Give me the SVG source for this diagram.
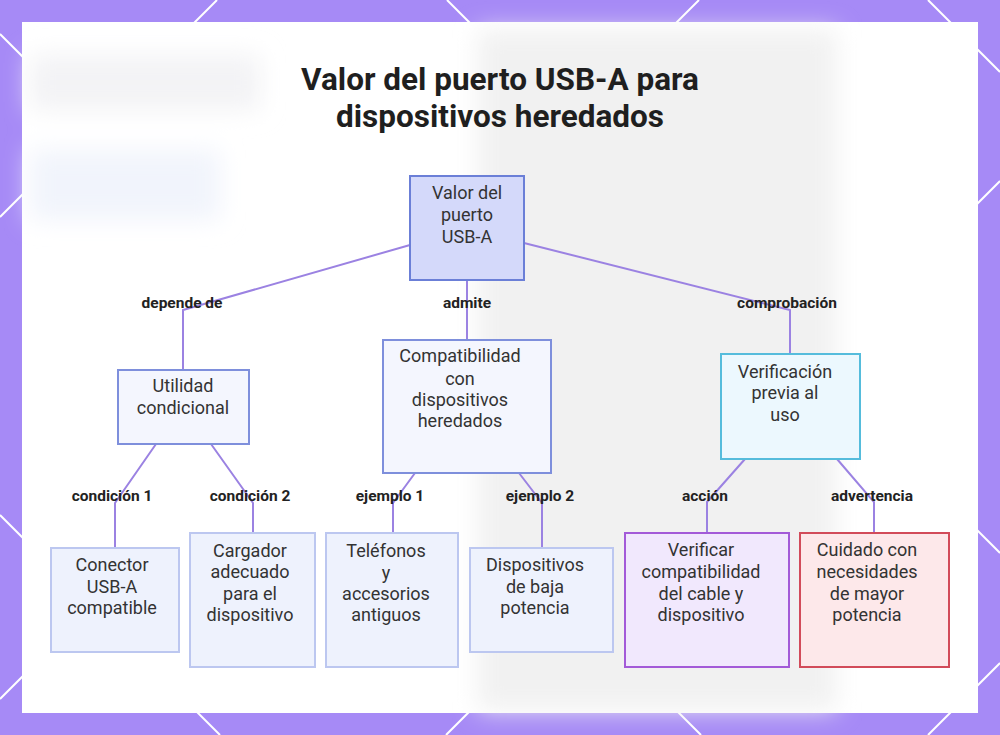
<svg xmlns="http://www.w3.org/2000/svg" width="1000" height="735" viewBox="0 0 1000 735">
<style>
.lat{stroke:#ffffff;stroke-width:2;fill:none}
.ttl{font-family:Roboto,"Liberation Sans",sans-serif;font-weight:700;font-size:31.5px;fill:#1f1f1f;text-anchor:middle}
.nt{font-family:Roboto,"Liberation Sans",sans-serif;font-size:18px;fill:#333333;text-anchor:middle}
.lb{font-family:Roboto,"Liberation Sans",sans-serif;font-weight:700;font-size:15.5px;fill:#222222;text-anchor:middle}
.cn{stroke:#9b82e2;stroke-width:2;fill:none}
.leaf{fill:#eef2fd;stroke:#bcc7f0;stroke-width:2}
.mid{fill:#f4f6fe;stroke:#7e8fdc;stroke-width:2}
</style>
<defs>
<filter id="blur" x="-20%" y="-20%" width="140%" height="140%"><feGaussianBlur stdDeviation="12"/></filter>
</defs>
<rect x="0" y="0" width="1000" height="735" fill="#a68af6"/>
<g id="lattice">
<line class="lat" x1="0" y1="217" x2="217" y2="0"/>
<line class="lat" x1="0" y1="699" x2="699" y2="0"/>
<line class="lat" x1="446" y1="735" x2="1000" y2="181"/>
<line class="lat" x1="928" y1="735" x2="1000" y2="663"/>
<line class="lat" x1="447" y1="0" x2="1000" y2="553"/>
<line class="lat" x1="928" y1="0" x2="1000" y2="72"/>
<line class="lat" x1="0" y1="34" x2="701" y2="735"/>
<line class="lat" x1="0" y1="515" x2="220" y2="735"/>
</g>
<rect x="22" y="22" width="956" height="691" fill="#ffffff"/>
<g id="backdrop" filter="url(#blur)">
<rect x="478" y="30" width="358" height="680" fill="#f1f1f1"/>
<rect x="30" y="55" width="230" height="55" fill="#f3f3f5"/>
<rect x="30" y="150" width="190" height="70" fill="#f1f4fc"/>
</g>
<circle cx="925" cy="660" r="44" fill="none" stroke="#ffffff" stroke-width="1.5"/>
<text class="ttl" x="500" y="90">Valor del puerto USB-A para</text>
<text class="ttl" x="500" y="127">dispositivos heredados</text>
<g id="connectors">
<polyline class="cn" points="410,245 183,310 183,370"/>
<polyline class="cn" points="467,280 467,340"/>
<polyline class="cn" points="524,243 790,310 790,354"/>
<polyline class="cn" points="156,444 115,503 115,548"/>
<polyline class="cn" points="211,444 253,503 253,533"/>
<polyline class="cn" points="415,473 393,503 393,533"/>
<polyline class="cn" points="519,473 542,503 542,548"/>
<polyline class="cn" points="745,459 707,502 707,533"/>
<polyline class="cn" points="837,459 874,502 874,533"/>
<text class="lb" x="182" y="308">depende de</text>
<text class="lb" x="467" y="308">admite</text>
<text class="lb" x="787" y="308">comprobación</text>
<text class="lb" x="112" y="501">condición 1</text>
<text class="lb" x="250" y="501">condición 2</text>
<text class="lb" x="390" y="501">ejemplo 1</text>
<text class="lb" x="540" y="501">ejemplo 2</text>
<text class="lb" x="705" y="501">acción</text>
<text class="lb" x="872" y="501">advertencia</text>
</g>
<g id="root">
<rect x="410" y="176" width="114" height="104" fill="#d4d9fa" stroke="#6b7fd7" stroke-width="2"/>
<text class="nt" x="467" y="199">Valor del</text>
<text class="nt" x="467" y="221">puerto</text>
<text class="nt" x="467" y="243">USB-A</text>
</g>
<g id="utilidad">
<rect class="mid" x="118" y="370" width="131" height="74"/>
<text class="nt" x="183" y="392">Utilidad</text>
<text class="nt" x="183" y="414">condicional</text>
</g>
<g id="compat">
<rect class="mid" x="383" y="340" width="168" height="133"/>
<text class="nt" x="460" y="362">Compatibilidad</text>
<text class="nt" x="460" y="385">con</text>
<text class="nt" x="460" y="406">dispositivos</text>
<text class="nt" x="460" y="427">heredados</text>
</g>
<g id="verif">
<rect x="721" y="354" width="139" height="105" fill="#ecf8fe" stroke="#55bcdc" stroke-width="2"/>
<text class="nt" x="785" y="378">Verificación</text>
<text class="nt" x="785" y="399">previa al</text>
<text class="nt" x="785" y="421">uso</text>
</g>
<g id="conector">
<rect class="leaf" x="51" y="548" width="128" height="104"/>
<text class="nt" x="112" y="571">Conector</text>
<text class="nt" x="112" y="593">USB-A</text>
<text class="nt" x="112" y="614">compatible</text>
</g>
<g id="cargador">
<rect class="leaf" x="190" y="533" width="125" height="134"/>
<text class="nt" x="250" y="557">Cargador</text>
<text class="nt" x="250" y="578">adecuado</text>
<text class="nt" x="250" y="600">para el</text>
<text class="nt" x="250" y="621">dispositivo</text>
</g>
<g id="telefonos">
<rect class="leaf" x="326" y="533" width="132" height="134"/>
<text class="nt" x="386" y="557">Teléfonos</text>
<text class="nt" x="386" y="579">y</text>
<text class="nt" x="386" y="600">accesorios</text>
<text class="nt" x="386" y="621">antiguos</text>
</g>
<g id="baja">
<rect class="leaf" x="470" y="548" width="143" height="104"/>
<text class="nt" x="535" y="571">Dispositivos</text>
<text class="nt" x="535" y="593">de baja</text>
<text class="nt" x="535" y="614">potencia</text>
</g>
<g id="verificar">
<rect x="625" y="533" width="164" height="134" fill="#f1e8fd" stroke="#a35ad8" stroke-width="2"/>
<text class="nt" x="701" y="556">Verificar</text>
<text class="nt" x="701" y="578">compatibilidad</text>
<text class="nt" x="701" y="600">del cable y</text>
<text class="nt" x="701" y="621">dispositivo</text>
</g>
<g id="cuidado">
<rect x="800" y="533" width="149" height="134" fill="#fde8ea" stroke="#d24b5a" stroke-width="2"/>
<text class="nt" x="867" y="556">Cuidado con</text>
<text class="nt" x="867" y="578">necesidades</text>
<text class="nt" x="867" y="600">de mayor</text>
<text class="nt" x="867" y="621">potencia</text>
</g>
</svg>
